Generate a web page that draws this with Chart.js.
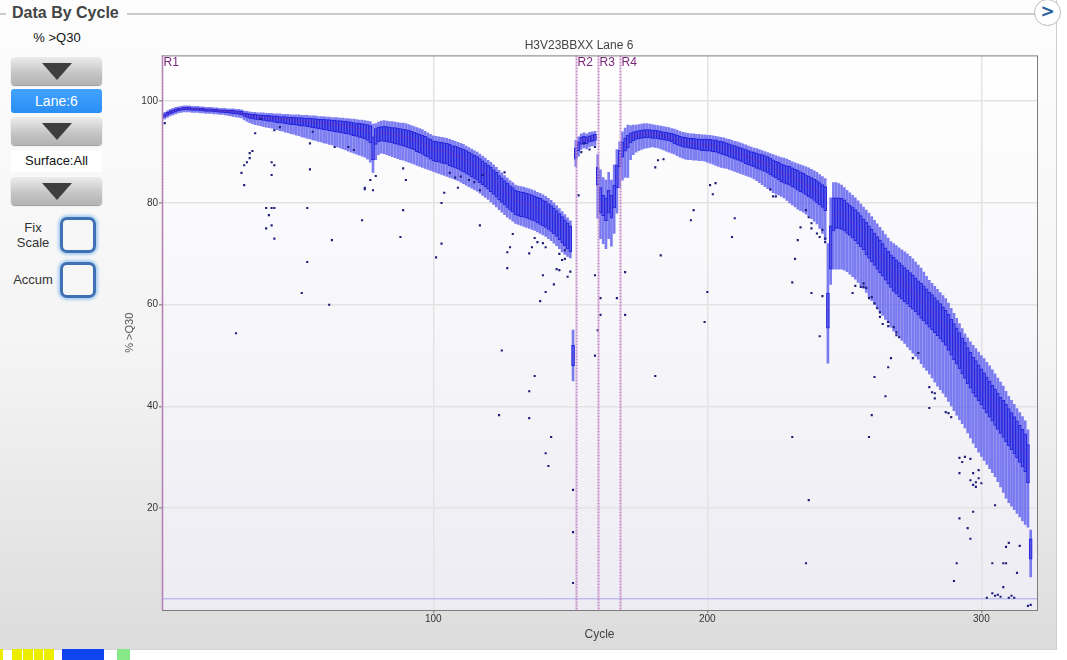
<!DOCTYPE html>
<html>
<head>
<meta charset="utf-8">
<title>Data By Cycle</title>
<script src="https://cdn.jsdelivr.net/npm/chart.js@4.4.1/dist/chart.umd.min.js"></script>
<style>
  html, body { margin: 0; padding: 0; background: #fff; }
  body { width: 1067px; height: 660px; position: relative; overflow: hidden;
         font-family: "Liberation Sans", Arial, sans-serif; }
  #panel { position: absolute; left: 0; top: 0; width: 1056px; height: 649px;
           background: linear-gradient(#fdfdfd 0%, #f4f4f4 55%, #dcdcdc 100%);
           border-right: 1px solid #cfcfcf; border-bottom: 1px solid #d6d6d6; }
  #head { position: absolute; left: 12px; top: 4px; font-size: 16px; font-weight: bold; color: #444; }
  .hline { position: absolute; top: 13px; height: 2px; background: #cbcbcb; }
  #next { position: absolute; left: 1034px; top: -1px; width: 27px; height: 27px; border-radius: 50%;
          background: #fff; border: 1.5px solid #bcbcbc; box-sizing: border-box;
          color: #2b5f9e; font: bold 17px "DejaVu Sans", sans-serif; text-align: center; line-height: 23px; }
  #metric { position: absolute; left: 0; width: 114px; top: 30px; text-align: center; font-size: 13px; color: #111; }
  .btn { position: absolute; left: 11px; width: 91px; height: 28px; border-radius: 4px;
         background: linear-gradient(#ececec, #c4c4c4 60%, #b3b3b3); box-shadow: 0 1px 1px #999; }
  .btn::after { content: ""; position: absolute; left: 31px; top: 6px; border-left: 15px solid transparent;
                border-right: 15px solid transparent; border-top: 17px solid #3e3e3e; }
  #lane { position: absolute; left: 11px; top: 89px; width: 91px; height: 24px; border-radius: 3px;
          background: linear-gradient(#42a2ff, #2a8ef5); color: #fff; font-size: 14px; text-align: center; line-height: 24px; }
  #surface { position: absolute; left: 11px; top: 150px; width: 91px; height: 22px; background: #fff;
             font-size: 13px; text-align: center; line-height: 22px; color: #111; }
  .lbl { position: absolute; font-size: 13px; color: #333; text-align: center; line-height: 15px; }
  .chk { position: absolute; left: 60px; width: 36px; height: 36px; box-sizing: border-box; border-radius: 7px;
         border: 3px solid #3f72b4; background: #f6f6f6; box-shadow: 0 0 3px 2px #a9cdf2; }
  .strip { position: absolute; top: 649px; height: 11px; }
  #box { position: absolute; left: 118px; top: 35px; width: 924px; height: 615px; }
</style>
</head>
<body>
<div id="panel"></div>
<div class="hline" style="left:0;width:6px"></div>
<div class="hline" style="left:127px;width:908px"></div>
<div id="head">Data By Cycle</div>
<div id="next">&gt;</div>
<div id="metric">% &gt;Q30</div>
<div class="btn" style="top:57px"></div>
<div id="lane">Lane:6</div>
<div class="btn" style="top:117px"></div>
<div id="surface">Surface:All</div>
<div class="btn" style="top:177px"></div>
<div class="lbl" style="left:12px;top:220px;width:42px">Fix<br>Scale</div>
<div class="chk" style="top:217px"></div>
<div class="lbl" style="left:9px;top:272px;width:48px">Accum</div>
<div class="chk" style="top:262px"></div>
<div class="strip" style="left:0;width:3px;background:#eded00"></div>
<div class="strip" style="left:12px;width:10px;background:#eded00"></div>
<div class="strip" style="left:23px;width:10px;background:#eded00"></div>
<div class="strip" style="left:34px;width:9px;background:#eded00"></div>
<div class="strip" style="left:44px;width:10px;background:#eded00"></div>
<div class="strip" style="left:62px;width:42px;background:#1044ee"></div>
<div class="strip" style="left:117px;width:13px;background:#86e886"></div>
<div id="box"><canvas id="grafico"></canvas></div>

<script>
// ---- box plot values per cycle ----
// read 1 (cycles 1-151)
const read1Low = [
  96.2,96.5,96.8,97.1,97.3,97.5,97.7,97.8,97.9,97.9,
  97.9,97.8,97.8,97.8,97.7,97.7,97.6,97.6,97.6,97.5,
  97.5,97.4,97.4,97.3,97.2,97.1,97.0,96.9,96.8,96.7,
  96.3,96.0,95.8,95.6,95.4,95.3,95.2,95.0,94.9,94.8,
  94.7,94.5,94.4,94.2,94.1,93.9,93.8,93.6,93.5,93.3,
  93.2,93.0,92.9,92.7,92.6,92.4,92.3,92.1,92.0,91.8,
  91.7,91.5,91.4,91.2,91.0,90.8,90.6,90.4,90.2,90.0,
  89.8,89.6,89.4,89.2,89.0,88.6,88.0,86.0,88.5,89.5,
  89.8,89.7,89.5,89.3,89.1,88.9,88.7,88.5,88.4,88.2,
  88.0,87.8,87.6,87.4,87.2,87.0,86.8,86.6,86.4,86.2,
  86.0,85.8,85.6,85.4,85.2,85.0,84.8,84.6,84.4,84.1,
  83.8,83.5,83.2,82.9,82.6,82.3,81.9,81.5,81.1,80.7,
  80.2,79.7,79.2,78.7,78.2,77.7,77.2,76.8,76.4,76.0,
  75.8,75.6,75.4,75.2,75.0,74.8,74.6,74.3,74.0,73.7,
  73.4,73.0,72.6,72.1,71.6,71.0,70.4,69.9,69.5,69.2,
  45.0
];
const read1Q1 = [
  96.7,96.9,97.2,97.5,97.7,97.9,98.1,98.2,98.3,98.3,
  98.3,98.2,98.2,98.2,98.1,98.1,98.0,98.0,98.0,97.9,
  97.9,97.8,97.8,97.7,97.7,97.6,97.5,97.5,97.4,97.3,
  97.0,96.8,96.6,96.5,96.4,96.3,96.3,96.2,96.1,96.0,
  96.0,95.9,95.8,95.7,95.7,95.6,95.5,95.4,95.4,95.3,
  95.2,95.1,95.1,95.0,94.9,94.8,94.7,94.6,94.5,94.4,
  94.3,94.2,94.1,94.0,93.9,93.8,93.7,93.6,93.5,93.3,
  93.2,93.1,92.9,92.8,92.6,92.3,91.8,88.5,91.5,92.0,
  92.2,92.1,92.0,91.9,91.8,91.6,91.5,91.3,91.2,91.0,
  90.8,90.6,90.4,90.1,89.9,89.6,89.3,89.0,88.6,88.3,
  88.1,88.0,87.8,87.7,87.6,87.3,87.1,86.9,86.7,86.4,
  86.1,85.8,85.5,85.1,84.8,84.5,84.0,83.6,83.2,82.7,
  82.2,81.7,81.2,80.6,80.1,79.6,79.1,78.6,78.2,77.7,
  77.5,77.3,77.2,77.0,76.8,76.6,76.4,76.1,75.8,75.5,
  75.2,74.8,74.4,73.9,73.4,72.8,72.2,71.6,71.0,70.4,
  48.0
];
const read1Med = [
  97.0,97.2,97.5,97.8,98.0,98.2,98.4,98.5,98.6,98.6,
  98.6,98.5,98.5,98.5,98.4,98.4,98.3,98.3,98.3,98.2,
  98.2,98.1,98.1,98.0,98.0,98.0,97.9,97.9,97.8,97.7,
  97.4,97.2,97.1,97.0,97.0,96.9,96.9,96.8,96.8,96.7,
  96.7,96.6,96.6,96.5,96.5,96.4,96.4,96.3,96.3,96.2,
  96.2,96.1,96.1,96.0,96.0,95.9,95.9,95.8,95.7,95.7,
  95.6,95.5,95.5,95.4,95.3,95.2,95.2,95.1,95.0,94.9,
  94.8,94.7,94.6,94.5,94.4,94.2,93.8,89.5,93.2,93.6,
  93.8,93.8,93.7,93.6,93.5,93.4,93.3,93.2,93.1,93.0,
  92.8,92.6,92.4,92.2,92.0,91.8,91.5,91.2,90.8,90.5,
  90.4,90.3,90.2,90.1,90.0,89.8,89.6,89.4,89.2,89.0,
  88.7,88.4,88.1,87.8,87.5,87.2,86.8,86.4,86.0,85.5,
  85.0,84.5,84.0,83.4,82.9,82.4,81.9,81.4,81.0,80.5,
  80.3,80.1,80.0,79.8,79.7,79.5,79.3,79.0,78.8,78.5,
  78.2,77.8,77.4,76.9,76.4,75.8,75.2,74.6,74.0,73.4,
  50.0
];
const read1Q3 = [
  97.3,97.5,97.8,98.1,98.3,98.5,98.6,98.7,98.8,98.8,
  98.8,98.7,98.7,98.7,98.6,98.6,98.5,98.5,98.5,98.4,
  98.4,98.3,98.3,98.3,98.2,98.2,98.2,98.1,98.1,98.0,
  97.7,97.6,97.5,97.4,97.4,97.3,97.3,97.2,97.2,97.2,
  97.1,97.1,97.1,97.0,97.0,97.0,96.9,96.9,96.9,96.8,
  96.8,96.8,96.7,96.7,96.7,96.6,96.6,96.5,96.5,96.5,
  96.4,96.4,96.3,96.3,96.2,96.2,96.1,96.1,96.0,95.9,
  95.8,95.7,95.7,95.6,95.5,95.4,95.2,93.0,94.6,94.9,
  95.0,95.1,95.0,94.9,94.8,94.8,94.7,94.6,94.5,94.4,
  94.3,94.1,93.9,93.7,93.5,93.3,93.1,92.8,92.5,92.2,
  92.1,92.0,91.9,91.8,91.7,91.5,91.3,91.2,91.0,90.8,
  90.6,90.3,90.0,89.7,89.4,89.1,88.7,88.3,87.9,87.4,
  87.0,86.5,86.0,85.4,84.9,84.4,83.9,83.4,83.0,82.5,
  82.3,82.2,82.1,81.9,81.8,81.6,81.4,81.1,80.9,80.6,
  80.3,79.9,79.5,79.0,78.5,77.9,77.3,76.7,76.1,75.5,
  52.0
];
const read1High = [
  97.6,97.8,98.1,98.4,98.6,98.8,98.9,99.0,99.1,99.1,
  99.1,99.0,99.0,99.0,98.9,98.9,98.8,98.8,98.8,98.7,
  98.7,98.6,98.6,98.6,98.5,98.5,98.5,98.4,98.4,98.3,
  98.1,98.0,97.9,97.8,97.8,97.7,97.7,97.7,97.6,97.6,
  97.6,97.5,97.5,97.5,97.4,97.4,97.4,97.3,97.3,97.3,
  97.3,97.2,97.2,97.2,97.1,97.1,97.1,97.0,97.0,97.0,
  96.9,96.9,96.8,96.8,96.8,96.7,96.7,96.6,96.6,96.5,
  96.5,96.4,96.3,96.3,96.2,96.1,96.0,95.5,95.6,95.9,
  96.1,96.2,96.1,96.0,96.0,95.9,95.8,95.7,95.7,95.6,
  95.4,95.2,95.0,94.8,94.6,94.4,94.1,93.8,93.5,93.2,
  93.1,93.0,92.9,92.8,92.7,92.5,92.3,92.1,91.9,91.7,
  91.5,91.2,90.9,90.6,90.3,90.0,89.6,89.2,88.8,88.4,
  88.0,87.5,87.0,86.4,85.9,85.4,84.9,84.4,84.0,83.5,
  83.3,83.2,83.1,82.9,82.8,82.6,82.4,82.1,81.9,81.6,
  81.3,80.9,80.5,80.0,79.5,78.9,78.3,77.7,77.1,76.5,
  55.0
];

// index reads (cycles 152-159 and 160-167)
const index1Low  = [87.2,89.2,90.5,90.8,90.6,91.0,91.2,91.3];
const index1Q1   = [88.6,90.3,91.5,91.8,91.6,92.0,92.1,92.3];
const index1Med  = [89.8,91.2,92.2,92.5,92.3,92.6,92.8,92.9];
const index1Q3   = [90.8,92.0,92.9,93.1,93.0,93.2,93.4,93.5];
const index1High = [92.3,93.0,93.6,93.8,93.6,93.9,94.0,94.1];
const index2Low  = [77.0,73.0,72.0,71.0,73.0,71.5,74.0,78.0];
const index2Q1   = [83.5,78.0,77.5,76.5,78.0,77.0,79.0,83.0];
const index2Med  = [85.0,80.0,79.5,78.5,80.0,79.0,81.0,85.0];
const index2Q3   = [87.0,83.0,81.5,81.0,82.5,81.5,83.5,87.5];
const index2High = [89.5,86.5,85.0,84.5,86.0,84.5,87.5,90.5];

// read 2 (cycles 168-318)
const read2Low = [
  83.0,84.5,85.0,85.0,88.5,89.5,90.0,90.3,90.5,90.7,
  90.8,90.9,91.0,90.9,90.8,90.6,90.4,90.2,90.0,89.8,
  89.6,89.3,89.0,88.8,88.6,88.5,88.5,88.4,88.4,88.3,
  88.3,88.2,88.0,87.8,87.6,87.4,87.2,87.0,86.9,86.8,
  86.6,86.4,86.2,86.0,85.8,85.6,85.4,85.2,85.0,84.7,
  84.4,84.0,83.6,83.2,82.8,82.4,82.0,81.8,81.6,81.3,
  81.0,80.5,80.0,79.6,79.2,78.8,78.5,78.2,77.8,77.4,
  76.9,76.4,75.9,75.0,74.0,72.7,48.5,64.0,67.0,67.0,
  67.0,67.0,66.8,66.5,66.0,65.5,65.0,64.4,63.8,63.2,
  62.4,61.6,60.8,60.0,59.3,58.6,57.9,57.1,56.4,55.6,
  54.8,54.2,53.6,53.0,52.4,51.7,51.1,50.5,49.9,49.3,
  48.4,47.7,47.1,46.4,45.6,44.8,44.0,43.3,42.6,41.9,
  41.0,40.1,39.2,38.3,37.4,36.6,35.8,34.8,33.8,32.8,
  31.9,31.0,30.2,29.4,28.6,27.8,27.0,26.2,25.2,24.2,
  23.1,22.0,21.1,20.4,19.7,19.0,18.3,17.5,16.8,16.3,
  6.5
];
const read2Q1 = [
  87.0,89.0,90.2,90.8,91.8,92.2,92.5,92.6,92.7,92.8,
  92.8,92.8,92.7,92.7,92.6,92.5,92.4,92.3,92.2,92.0,
  91.6,91.4,91.2,91.0,90.9,90.8,90.7,90.6,90.5,90.5,
  90.3,90.3,90.2,90.2,90.1,90.0,89.8,89.6,89.5,89.3,
  89.0,88.8,88.6,88.4,88.2,88.0,87.7,87.5,87.3,87.1,
  86.8,86.6,86.4,86.2,85.9,85.5,85.2,84.9,84.6,84.2,
  83.9,83.7,83.5,83.2,82.9,82.5,82.2,81.9,81.6,81.2,
  80.9,80.5,80.0,79.6,79.1,78.5,55.4,67.0,74.5,75.0,
  75.0,74.8,74.5,74.0,73.6,73.1,72.6,72.0,71.4,70.8,
  69.8,69.1,68.4,67.7,67.0,66.3,65.6,64.8,64.1,63.4,
  62.6,62.1,61.6,61.1,60.6,60.1,59.6,59.1,58.6,58.0,
  57.3,56.8,56.2,55.6,55.1,54.5,53.9,53.3,52.7,52.0,
  51.0,50.1,49.2,48.3,47.4,46.4,45.5,44.5,43.6,42.6,
  41.9,41.1,40.3,39.5,38.7,37.9,37.1,36.3,35.5,34.7,
  33.9,33.1,32.3,31.5,30.7,29.9,29.0,28.1,27.2,25.0,
  10.0
];
const read2Med = [
  88.5,90.5,91.5,92.0,92.8,93.1,93.3,93.4,93.5,93.6,
  93.6,93.6,93.5,93.5,93.4,93.3,93.2,93.1,93.0,92.8,
  92.6,92.4,92.2,92.0,91.9,91.8,91.7,91.7,91.6,91.6,
  91.5,91.5,91.4,91.4,91.3,91.2,91.0,90.9,90.8,90.6,
  90.4,90.2,90.0,89.8,89.6,89.4,89.2,89.0,88.8,88.6,
  88.4,88.2,88.0,87.8,87.5,87.2,86.9,86.6,86.3,86.0,
  85.8,85.6,85.4,85.1,84.8,84.5,84.2,83.9,83.6,83.3,
  83.0,82.6,82.2,81.8,81.3,80.8,59.0,71.5,77.5,78.0,
  78.0,77.8,77.5,77.0,76.6,76.1,75.6,75.0,74.4,73.8,
  73.0,72.3,71.6,70.9,70.2,69.5,68.8,68.0,67.3,66.6,
  66.0,65.5,65.0,64.5,64.0,63.5,63.0,62.5,62.0,61.4,
  60.8,60.3,59.7,59.1,58.6,58.0,57.4,56.8,56.2,55.5,
  54.6,53.7,52.8,51.9,51.0,50.0,49.1,48.1,47.2,46.2,
  45.4,44.6,43.8,43.0,42.2,41.4,40.6,39.8,39.0,38.2,
  37.4,36.6,35.8,35.0,34.2,33.4,32.5,31.6,30.6,28.5,
  12.0
];
const read2Q3 = [
  90.4,92.0,92.8,93.3,93.8,94.0,94.1,94.2,94.3,94.4,
  94.4,94.4,94.3,94.3,94.2,94.1,94.0,93.9,93.8,93.7,
  93.5,93.3,93.1,93.0,92.9,92.8,92.7,92.7,92.6,92.6,
  92.5,92.6,92.5,92.5,92.4,92.4,92.2,92.1,92.0,91.8,
  91.6,91.4,91.3,91.1,90.9,90.7,90.5,90.3,90.1,90.0,
  89.8,89.6,89.5,89.3,89.1,88.8,88.5,88.2,88.0,87.7,
  87.5,87.3,87.2,86.9,86.6,86.4,86.1,85.8,85.5,85.3,
  85.0,84.7,84.4,84.0,83.6,83.2,62.3,75.5,81.0,81.0,
  81.0,80.9,80.6,80.0,79.6,79.2,78.7,78.1,77.5,76.9,
  76.2,75.5,74.8,74.1,73.4,72.7,72.0,71.2,70.5,69.8,
  69.3,68.8,68.3,67.8,67.3,66.8,66.3,65.8,65.3,64.7,
  64.2,63.7,63.1,62.5,62.0,61.4,60.8,60.2,59.6,58.9,
  58.1,57.2,56.3,55.4,54.5,53.5,52.6,51.6,50.7,49.7,
  49.0,48.2,47.4,46.6,45.8,45.0,44.2,43.4,42.6,41.8,
  41.2,40.4,39.6,38.8,38.0,37.2,36.3,35.5,34.6,32.5,
  14.0
];
const read2High = [
  92.0,94.0,94.7,95.3,95.2,95.3,95.3,95.4,95.5,95.6,
  95.6,95.5,95.4,95.3,95.2,95.1,95.0,94.9,94.8,94.6,
  94.5,94.3,94.1,93.9,93.8,93.7,93.6,93.6,93.5,93.5,
  93.4,93.4,93.3,93.3,93.2,93.1,93.0,92.9,92.8,92.6,
  92.5,92.3,92.1,92.0,91.8,91.6,91.4,91.2,91.0,90.8,
  90.7,90.5,90.3,90.1,89.9,89.7,89.5,89.3,89.1,88.9,
  88.8,88.6,88.4,88.1,87.9,87.7,87.5,87.3,87.1,86.9,
  86.6,86.3,86.0,85.6,85.2,84.8,72.0,81.0,84.0,84.0,
  83.8,83.5,83.0,82.5,82.0,81.5,81.0,80.4,79.8,79.2,
  78.6,78.0,77.3,76.6,75.9,75.2,74.5,73.8,73.1,72.4,
  72.0,71.6,71.2,70.8,70.4,70.0,69.5,69.0,68.4,67.8,
  67.2,66.4,65.6,64.8,64.2,63.6,63.0,62.4,61.8,61.2,
  60.3,59.3,58.3,57.3,56.3,55.3,54.3,53.5,52.7,52.0,
  51.4,50.7,50.0,49.4,48.7,48.0,47.2,46.4,45.6,44.8,
  44.0,43.0,42.0,41.2,40.4,39.6,38.8,38.0,37.2,35.4,
  15.7
];

// outlier tiles (cycle, % >Q30)
const outlierCycle = [
  2,28,30,31,32,33,34,31,33,35,37,39,40,41,39,42,41,42,41,42,41,42,44,52,54,54,55,55,56,62,
  63,64,69,71,74,75,75,77,78,79,88,89,89,90,101,103,103,104,106,108,109,110,113,115,117,117,118,124,125,126,
  127,127,128,129,135,136,137,138,140,141,135,135,137,139,140,141,141,142,143,144,145,146,147,148,149,150,146,148,151,151,
  151,153,155,154,157,159,159,161,161,159,160,167,170,170,
  181,182,184,183,181,195,194,199,200,201,203,202,210,209,223,224,225,232,231,233,234,236,237,238,238,240,241,242,243,243,
  238,242,241,237,236,231,253,254,256,257,257,258,259,260,261,262,263,263,264,266,266,268,269,269,270,267,266,261,265,260,
  259,275,277,281,283,283,282,281,287,288,289,292,293,294,292,296,296,297,298,299,299,297,300,298,305,297,292,295,296,291,
  290,304,308,309,313,310,309,314,308,302,304,305,306,307,310,311,312,317,318
];
const outlierValue = [
  95.7,54.4,85.9,87.4,88.0,88.8,90.2,83.5,89.8,93.7,96.5,79.0,77.6,75.6,75.0,73.0,79.0,79.0,88.0,87.4,85.5,94.3,94.9,62.3,68.4,79.0,86.6,91.7,94.0,60.0,
  72.7,91.0,91.0,90.4,76.6,82.7,83.0,84.5,82.5,85.3,73.3,78.6,86.8,84.5,69.3,72.0,80.0,82.0,85.9,85.0,83.0,85.2,84.5,84.1,82.5,75.6,85.5,38.3,51.0,86.0,
  67.2,70.3,71.3,73.9,70.1,71.3,73.1,72.3,72.1,71.3,43.0,37.7,46.0,60.7,65.8,62.5,30.8,28.3,34.0,64.0,67.0,66.8,68.8,70.7,65.5,66.5,70.0,69.0,23.6,15.3,
  5.3,81.5,91.7,90.0,90.5,91.0,65.8,58.0,61.3,50.0,55.0,61.3,66.4,58.0,
  87.0,88.4,88.6,69.7,46.0,78.6,76.6,56.6,62.5,83.5,83.9,81.7,77.0,73.3,82.7,81.3,81.3,69.0,64.4,72.7,75.2,78.6,77.2,76.0,75.0,74.0,73.3,74.7,73.0,72.3,
  62.3,61.7,53.8,21.6,9.2,34.0,62.3,63.7,63.5,63.5,64.2,63.3,61.3,61.5,60.3,59.3,58.5,57.6,56.2,56.6,55.8,55.6,54.6,54.0,53.6,49.5,47.7,45.8,42.0,38.3,
  34.0,49.5,50.5,43.8,42.6,41.6,42.8,39.7,38.9,38.7,37.9,29.9,29.1,30.1,26.9,29.7,25.5,24.6,25.1,25.9,27.5,26.9,24.9,24.2,20.6,19.3,18.0,16.1,14.0,9.2,
  5.7,9.2,9.2,9.2,7.3,13.2,12.4,12.6,4.5,2.4,3.3,2.8,3.0,2.6,2.4,2.8,2.4,0.8,1.0
];

// read boundaries and labels
const regionStart = [1, 152, 160, 168];
const regionLabel = ["R1", "R2", "R3", "R4"];
const thresholdValue = 2.2;
const xTicks = [100, 200, 300];
const yTicks = [20, 40, 60, 80, 100];

// ---- build the series ----
const whiskerLow = [...read1Low, ...index1Low, ...index2Low, ...read2Low];
const boxLow     = [...read1Q1, ...index1Q1, ...index2Q1, ...read2Q1];
const median     = [...read1Med, ...index1Med, ...index2Med, ...read2Med];
const boxHigh    = [...read1Q3, ...index1Q3, ...index2Q3, ...read2Q3];
const whiskerHigh = [...read1High, ...index1High, ...index2High, ...read2High];
const ciclos = median.map((_, i) => i + 1);

const xMin = 1, xMax = 320.3;

const fundoArea = {
  id: "fundoArea",
  beforeDraw(chart) {
    const { ctx, chartArea: a } = chart;
    const g = ctx.createLinearGradient(0, a.top, 0, a.bottom);
    g.addColorStop(0, "#ffffff");
    g.addColorStop(1, "#eeecf3");
    ctx.save();
    ctx.fillStyle = g;
    ctx.fillRect(a.left, a.top, a.right - a.left, a.bottom - a.top);
    ctx.restore();
  }
};

const regioes = {
  id: "regioes",
  afterDatasetsDraw(chart) {
    const { ctx, chartArea: a, scales } = chart;
    ctx.save();
    ctx.strokeStyle = "#7d7d7d";
    ctx.lineWidth = 1;
    ctx.strokeRect(a.left + 0.5, a.top + 0.5, a.right - a.left, a.bottom - a.top);
    regionStart.forEach((c, i) => {
      const x = Math.round(scales.x.getPixelForValue(c)) + 0.5;
      ctx.strokeStyle = "#c58cc8";
      ctx.lineWidth = 2;
      ctx.setLineDash([2, 1]);
      ctx.beginPath();
      ctx.moveTo(x, a.top);
      ctx.lineTo(x, a.bottom);
      ctx.stroke();
      ctx.setLineDash([]);
      ctx.fillStyle = "#7a2579";
      ctx.font = '12px "Liberation Sans", Arial, sans-serif';
      ctx.textBaseline = "top";
      ctx.fillText(regionLabel[i], x + 1, a.top + 1);
    });
    ctx.restore();
  }
};

function gerarGrafico() {
  const ctx = document.getElementById("grafico").getContext("2d");

  new Chart(ctx, {
    type: "bar",
    data: {
      datasets: [
        {
          type: "scatter",
          label: "outliers",
          data: outlierCycle.map((c, i) => ({ x: c, y: outlierValue[i] })),
          pointStyle: "rect",
          pointRadius: 1.5,
          backgroundColor: "#1c1c7a",
          borderWidth: 0,
          order: 0
        },
        {
          type: "scatter",
          label: "mediana",
          data: ciclos.map((c, i) => ({ x: c, y: median[i] })),
          pointStyle: "line",
          pointRadius: 1.5,
          borderColor: "rgba(150,40,150,0.35)",
          borderWidth: 1,
          order: 1
        },
        {
          label: "caixa",
          data: ciclos.map((c, i) => ({ x: c, y: [boxLow[i], boxHigh[i]] })),
          backgroundColor: "rgba(110,110,242,0.55)",
          borderColor: "#2626dc",
          borderWidth: 1,
          borderSkipped: false,
          barThickness: 3,
          grouped: false,
          order: 2
        },
        {
          label: "bigode",
          data: ciclos.map((c, i) => ({ x: c, y: [whiskerLow[i], whiskerHigh[i]] })),
          backgroundColor: "rgba(88,88,238,0.78)",
          borderWidth: 0,
          barThickness: 2,
          grouped: false,
          order: 3
        },
        {
          type: "line",
          label: "limite",
          data: [{ x: xMin, y: thresholdValue }, { x: xMax, y: thresholdValue }],
          borderColor: "#a9a6ee",
          borderWidth: 1,
          pointRadius: 0,
          order: 4
        }
      ]
    },
    options: {
      responsive: true,
      maintainAspectRatio: false,
      animation: false,
      events: [],
      layout: { padding: { left: 0, right: 2, top: 0, bottom: 0 } },
      plugins: {
        legend: { display: false },
        tooltip: { enabled: false },
        title: {
          display: true,
          text: "H3V23BBXX Lane 6",
          color: "#444",
          font: { family: '"Liberation Sans", Arial, sans-serif', size: 12, weight: "normal" },
          padding: { top: 3, bottom: 3 }
        }
      },
      scales: {
        x: {
          type: "linear",
          min: xMin,
          max: xMax,
          offset: false,
          afterBuildTicks: s => { s.ticks = xTicks.map(v => ({ value: v })); },
          afterFit: s => { s.height = 40; },
          grid: { color: "#e3e3e3", lineWidth: 1.5, offset: false, tickLength: 3, tickColor: "#999" },
          border: { display: true, color: "#7d7d7d" },
          ticks: { color: "#333", padding: 0, maxRotation: 0,
                   font: { family: '"Liberation Sans", Arial, sans-serif', size: 10 } },
          title: { display: true, text: "Cycle", color: "#444", padding: { top: 0, bottom: 8 },
                   font: { family: '"Liberation Sans", Arial, sans-serif', size: 12 } }
        },
        y: {
          min: 0,
          max: 109,
          afterBuildTicks: s => { s.ticks = yTicks.map(v => ({ value: v })); },
          afterFit: s => { s.width = 44; },
          grid: { color: "#e3e3e3", lineWidth: 1.5, tickLength: 3, tickColor: "#999" },
          border: { display: true, color: "#7d7d7d" },
          ticks: { color: "#333", padding: 1,
                   font: { family: '"Liberation Sans", Arial, sans-serif', size: 10 } },
          title: { display: true, text: "% >Q30", color: "#555", padding: { top: 5, bottom: 0 },
                   font: { family: '"Liberation Sans", Arial, sans-serif', size: 11 } }
        }
      }
    },
    plugins: [fundoArea, regioes]
  });
}

window.addEventListener("DOMContentLoaded", gerarGrafico);
</script>
</body>
</html>
